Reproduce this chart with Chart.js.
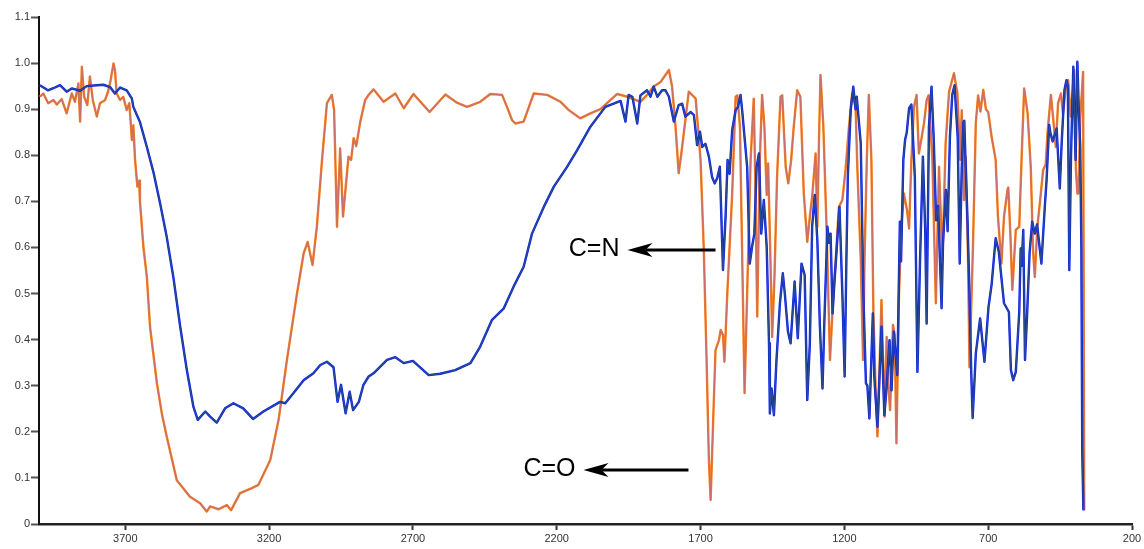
<!DOCTYPE html>
<html>
<head>
<meta charset="utf-8">
<script src="https://cdn.jsdelivr.net/npm/chart.js@4.4.1/dist/chart.umd.min.js"></script>
<style>
  html, body { margin: 0; padding: 0; background: #fff; }
  #wrap { width: 1144px; height: 549px; }
</style>
</head>
<body>
<div id="wrap"><canvas id="spectrum" width="1144" height="549"></canvas></div>
<script>
// IR spectra: wavenumber (cm-1) and transmittance, orange and blue traces
const orangeWavenumber = [3997,3985,3968,3950,3938,3921,3904,3886,3875,3863,3857,3851,3843,3832,3823,3813,3799,3788,3770,3759,3751,3741,3736,3730,3718,3707,3695,3686,3681,3677,3672,3666,3658,3652,3649,3637,3625,3614,3590,3573,3556,3521,3475,3440,3417,3405,3376,3347,3332,3301,3260,3237,3196,3167,3138,3103,3080,3066,3049,3034,3016,2999,2982,2974,2964,2953,2943,2924,2915,2906,2897,2883,2866,2854,2837,2802,2761,2732,2698,2642,2587,2547,2512,2466,2431,2390,2373,2355,2344,2315,2280,2233,2187,2158,2118,2083,2048,1990,1955,1909,1886,1863,1839,1810,1799,1787,1776,1764,1741,1723,1717,1700,1689,1679,1671,1665,1656,1648,1636,1630,1622,1617,1607,1590,1578,1572,1563,1555,1547,1538,1526,1515,1510,1503,1494,1486,1478,1470,1465,1457,1451,1443,1434,1422,1416,1404,1395,1385,1376,1364,1353,1341,1329,1320,1312,1300,1294,1288,1283,1273,1262,1250,1238,1230,1219,1207,1196,1184,1173,1161,1155,1143,1135,1130,1122,1115,1106,1099,1091,1085,1077,1071,1064,1060,1053,1047,1041,1031,1025,1019,1010,1002,993,982,975,967,958,949,941,931,923,914,907,894,882,871,859,848,836,819,807,797,792,784,778,770,765,753,743,735,727,717,708,700,688,674,666,654,645,633,630,623,616,604,592,584,575,563,552,544,538,529,517,509,500,494,482,474,465,457,447,440,430,422,413,401,395,390,386,380,370,366];
const orangeTransmittance = [0.927,0.934,0.913,0.92,0.91,0.922,0.891,0.934,0.916,0.956,0.873,0.992,0.927,0.909,0.971,0.92,0.884,0.913,0.92,0.94,0.963,0.999,0.985,0.934,0.92,0.927,0.898,0.913,0.869,0.833,0.865,0.79,0.732,0.745,0.7,0.601,0.536,0.428,0.305,0.24,0.19,0.095,0.059,0.045,0.027,0.038,0.032,0.041,0.03,0.067,0.078,0.085,0.139,0.226,0.356,0.5,0.587,0.612,0.562,0.645,0.79,0.913,0.931,0.898,0.645,0.815,0.667,0.797,0.79,0.837,0.82,0.873,0.92,0.931,0.943,0.916,0.934,0.902,0.933,0.894,0.932,0.914,0.905,0.916,0.933,0.931,0.905,0.876,0.869,0.873,0.934,0.931,0.916,0.898,0.88,0.891,0.9,0.933,0.927,0.916,0.931,0.949,0.959,0.985,0.949,0.862,0.761,0.818,0.938,0.927,0.923,0.79,0.601,0.356,0.139,0.052,0.226,0.377,0.399,0.421,0.41,0.352,0.5,0.717,0.927,0.93,0.862,0.573,0.284,0.5,0.79,0.923,0.753,0.45,0.79,0.931,0.862,0.714,0.782,0.573,0.406,0.536,0.753,0.927,0.93,0.775,0.739,0.79,0.862,0.941,0.927,0.717,0.612,0.667,0.71,0.804,0.645,0.84,0.974,0.862,0.645,0.356,0.5,0.573,0.688,0.703,0.768,0.862,0.934,0.905,0.775,0.573,0.356,0.573,0.79,0.931,0.79,0.457,0.284,0.19,0.356,0.486,0.32,0.233,0.406,0.3,0.247,0.432,0.41,0.175,0.5,0.645,0.717,0.68,0.641,0.79,0.905,0.931,0.804,0.84,0.87,0.92,0.93,0.79,0.479,0.775,0.573,0.826,0.938,0.978,0.934,0.79,0.898,0.703,0.797,0.573,0.34,0.6,0.87,0.93,0.895,0.942,0.9,0.894,0.84,0.79,0.667,0.565,0.667,0.725,0.73,0.63,0.508,0.638,0.645,0.79,0.945,0.891,0.775,0.594,0.536,0.645,0.717,0.768,0.78,0.847,0.931,0.88,0.818,0.913,0.934,0.89,0.949,0.963,0.884,0.985,0.768,0.717,0.717,0.88,0.981,0.03];

const blueWavenumber = [3997,3969,3948,3927,3904,3886,3857,3834,3799,3776,3753,3736,3718,3695,3677,3672,3649,3625,3602,3579,3556,3533,3509,3486,3463,3448,3422,3405,3382,3353,3324,3290,3256,3220,3162,3144,3115,3080,3046,3022,2999,2976,2962,2950,2934,2920,2908,2888,2872,2854,2837,2790,2761,2732,2700,2645,2605,2553,2500,2466,2425,2384,2350,2315,2286,2245,2210,2164,2129,2083,2031,1978,1961,1950,1937,1920,1909,1886,1874,1863,1850,1834,1822,1810,1793,1776,1764,1753,1741,1735,1723,1712,1702,1694,1683,1671,1660,1651,1642,1633,1622,1613,1606,1599,1590,1578,1570,1561,1555,1538,1529,1521,1513,1505,1497,1489,1480,1470,1462,1459,1453,1445,1436,1424,1414,1407,1396,1387,1373,1362,1349,1338,1329,1320,1312,1303,1294,1285,1276,1270,1259,1253,1248,1241,1236,1217,1207,1199,1193,1188,1178,1169,1161,1157,1143,1134,1125,1120,1113,1101,1096,1085,1079,1071,1061,1053,1043,1036,1028,1016,1007,1003,995,989,983,975,967,955,946,937,927,919,914,906,897,889,881,874,862,857,847,841,833,825,817,806,799,792,786,783,779,772,765,759,754,743,728,713,699,688,674,663,645,628,621,613,604,592,587,584,578,572,565,556,547,538,530,515,503,497,488,484,476,462,451,445,435,428,423,418,412,404,399,396,390,384,380,376,373,369];
const blueTransmittance = [0.952,0.941,0.946,0.952,0.938,0.945,0.94,0.95,0.952,0.953,0.948,0.934,0.947,0.941,0.923,0.905,0.872,0.818,0.763,0.696,0.623,0.536,0.428,0.334,0.254,0.226,0.244,0.233,0.22,0.251,0.262,0.251,0.228,0.244,0.265,0.262,0.284,0.312,0.327,0.345,0.352,0.34,0.265,0.302,0.24,0.287,0.247,0.265,0.302,0.32,0.327,0.356,0.362,0.349,0.354,0.323,0.326,0.334,0.349,0.385,0.443,0.468,0.515,0.558,0.63,0.688,0.732,0.775,0.811,0.862,0.905,0.918,0.873,0.931,0.927,0.869,0.93,0.941,0.927,0.949,0.927,0.941,0.941,0.927,0.873,0.909,0.912,0.884,0.89,0.894,0.887,0.822,0.851,0.818,0.825,0.797,0.753,0.739,0.75,0.775,0.551,0.667,0.79,0.76,0.855,0.898,0.905,0.931,0.895,0.775,0.565,0.601,0.63,0.775,0.804,0.63,0.703,0.601,0.392,0.24,0.294,0.236,0.356,0.479,0.544,0.5,0.417,0.392,0.526,0.403,0.565,0.54,0.269,0.392,0.645,0.714,0.616,0.428,0.294,0.43,0.645,0.61,0.63,0.457,0.51,0.688,0.5,0.32,0.573,0.753,0.898,0.949,0.9,0.927,0.826,0.5,0.305,0.3,0.229,0.457,0.32,0.211,0.3,0.428,0.236,0.298,0.399,0.29,0.417,0.323,0.656,0.57,0.79,0.833,0.85,0.902,0.91,0.753,0.33,0.57,0.797,0.64,0.435,0.862,0.949,0.83,0.659,0.69,0.468,0.61,0.725,0.635,0.84,0.931,0.952,0.84,0.565,0.77,0.872,0.875,0.79,0.66,0.5,0.33,0.23,0.37,0.446,0.352,0.47,0.52,0.62,0.59,0.479,0.46,0.334,0.312,0.33,0.46,0.598,0.56,0.638,0.356,0.45,0.59,0.656,0.63,0.65,0.565,0.69,0.746,0.866,0.85,0.83,0.858,0.728,0.82,0.941,0.963,0.95,0.551,0.8,0.992,0.87,0.79,1.003,0.88,0.82,0.6,0.16,0.03];

const xTickValues = [3700, 3200, 2700, 2200, 1700, 1200, 700, 200];
const yTickValues = [0, 0.1, 0.2, 0.3, 0.4, 0.5, 0.6, 0.7, 0.8, 0.9, 1.0, 1.1];
const yTickLabels = ['0', '0.1', '0.2', '0.3', '0.4', '0.5', '0.6', '0.7', '0.8', '0.9', '1.0', '1.1'];
const bandLabels = ['C=N', 'C=O'];

function toPoints(xs, ys) {
  return xs.map((x, i) => ({ x: x, y: ys[i] }));
}

const FONT = '"Liberation Sans", Arial, Helvetica, sans-serif';

// Band assignment arrows, placed in data coordinates
const bandArrows = {
  id: 'bandArrows',
  afterDatasetsDraw(chart) {
    const { ctx, scales } = chart;
    const items = [
      { text: bandLabels[0], tail: 1648, tip: 1954, level: 0.594 },
      { text: bandLabels[1], tail: 1742, tip: 2107, level: 0.117 }
    ];
    ctx.save();
    items.forEach(it => {
      const y = Math.round(scales.y.getPixelForValue(it.level));
      const xt = scales.x.getPixelForValue(it.tail);
      const xp = scales.x.getPixelForValue(it.tip);
      const headLen = 25, headHalf = 7, notch = 18;
      ctx.strokeStyle = '#000';
      ctx.lineWidth = 3;
      ctx.beginPath();
      ctx.moveTo(xt, y);
      ctx.lineTo(xp + notch, y);
      ctx.stroke();
      ctx.fillStyle = '#000';
      ctx.beginPath();
      ctx.moveTo(xp, y);
      ctx.lineTo(xp + headLen, y - headHalf);
      ctx.lineTo(xp + notch, y);
      ctx.lineTo(xp + headLen, y + headHalf);
      ctx.closePath();
      ctx.fill();
      ctx.font = '25px ' + FONT;
      ctx.textAlign = 'right';
      ctx.textBaseline = 'middle';
      ctx.fillText(it.text, xp - 8, y - 1);
    });
    ctx.restore();
  }
};

const lineStyle = { pointRadius: 0, tension: 0, fill: false, borderJoinStyle: 'round' };

// Higher "order" is painted first (underneath)
new Chart(document.getElementById('spectrum').getContext('2d'), {
  type: 'line',
  data: {
    datasets: [
      Object.assign({ data: toPoints(orangeWavenumber, orangeTransmittance), borderColor: '#ff7f0e', borderWidth: 2.4, order: 4 }, lineStyle),
      Object.assign({ data: toPoints(orangeWavenumber, orangeTransmittance), borderColor: '#c96f6c', borderWidth: 1.3, order: 3 }, lineStyle),
      Object.assign({ data: toPoints(blueWavenumber, blueTransmittance), borderColor: '#0620f0', borderWidth: 2.4, order: 2 }, lineStyle),
      Object.assign({ data: toPoints(blueWavenumber, blueTransmittance), borderColor: '#2b4a90', borderWidth: 1.3, order: 1 }, lineStyle)
    ]
  },
  options: {
    responsive: false,
    animation: false,
    devicePixelRatio: 1,
    layout: { padding: { top: 17, right: 12, left: 0, bottom: 0 } },
    plugins: { legend: { display: false }, tooltip: { enabled: false } },
    scales: {
      x: {
        type: 'linear',
        reverse: true,
        min: 200,
        max: 4000,
        afterBuildTicks: s => { s.ticks = xTickValues.map(v => ({ value: v })); },
        afterFit: s => { s.height = 25; },
        grid: { drawOnChartArea: false, drawTicks: true, tickLength: 6, tickColor: '#333', tickWidth: 2 },
        border: { display: true, color: '#222', width: 2.5 },
        ticks: {
          autoSkip: false, maxRotation: 0, padding: 2, color: '#333',
          font: { family: FONT, size: 11 },
          callback: v => String(v)
        }
      },
      y: {
        type: 'linear',
        min: 0,
        max: 1.1,
        afterBuildTicks: s => { s.ticks = yTickValues.map(v => ({ value: v })); },
        afterFit: s => { s.width = 39; },
        grid: { drawOnChartArea: false, drawTicks: true, tickLength: 8, tickColor: '#555', tickWidth: 2 },
        border: { display: true, color: '#111', width: 2 },
        ticks: {
          autoSkip: false, padding: 1, color: '#333',
          font: { family: FONT, size: 11 },
          callback: (v, i) => yTickLabels[i]
        }
      }
    }
  },
  plugins: [bandArrows]
});
</script>
</body>
</html>
